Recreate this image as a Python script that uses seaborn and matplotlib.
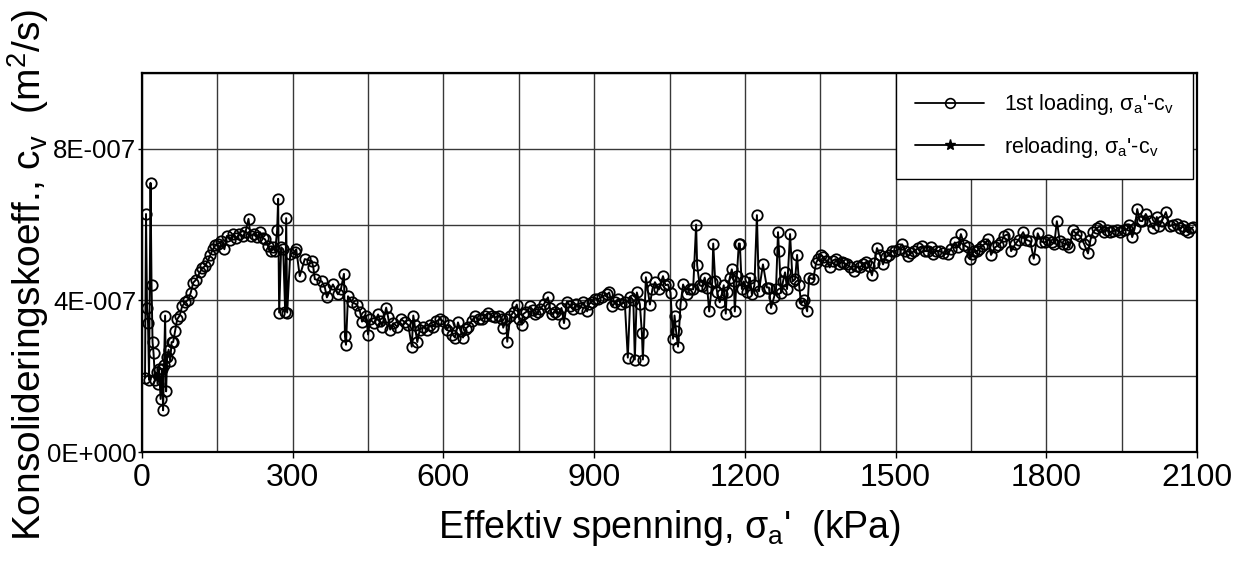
import matplotlib
matplotlib.use("Agg")
import matplotlib.pyplot as plt
from matplotlib.lines import Line2D
from matplotlib.ticker import MultipleLocator, FixedLocator, FixedFormatter
import seaborn as sns
import pandas as pd

# ---- data: effective stress (kPa) and cv (units of 1E-007 m2/s) ----
stress = [6, 8, 10, 12, 14, 17, 19, 21, 23, 26, 29, 31, 34, 37, 40, 42, 44, 46, 48, 50,
          53, 56, 59, 62, 66, 70, 75, 80, 86, 92, 97, 102, 108, 115, 120, 125, 131, 136, 141, 146,
          152, 158, 164, 169, 175, 182, 188, 194, 201, 206, 212, 216, 222, 228, 235, 240, 245, 251, 256, 260,
          265, 269, 271, 273, 277, 281, 285, 287, 289, 295, 305, 307, 314, 324, 338, 341, 344, 358, 364, 368,
          380, 390, 396, 402, 404, 406, 410, 418, 428, 434, 438, 446, 450, 454, 462, 470, 474, 478, 486, 490,
          494, 500, 508, 516, 524, 530, 537, 540, 543, 548, 553, 560, 567, 573, 579, 586, 593, 600, 607, 612,
          618, 623, 629, 634, 639, 644, 649, 656, 663, 670, 677, 683, 689, 696, 703, 710, 717, 719, 725, 727,
          733, 740, 746, 751, 756, 758, 765, 772, 778, 782, 788, 792, 800, 808, 812, 816, 822, 828, 835, 840,
          846, 852, 858, 864, 872, 878, 886, 890, 896, 902, 908, 916, 926, 930, 936, 942, 947, 954, 961, 967,
          972, 978, 981, 985, 991, 995, 997, 1003, 1011, 1016, 1021, 1029, 1037, 1042, 1047, 1052, 1057, 1060, 1063, 1067,
          1072, 1077, 1085, 1090, 1097, 1103, 1105, 1110, 1115, 1120, 1125, 1129, 1135, 1137, 1141, 1145, 1150, 1154, 1158, 1162,
          1164, 1170, 1174, 1178, 1180, 1184, 1188, 1190, 1194, 1198, 1204, 1210, 1214, 1219, 1224, 1228, 1236, 1244, 1248, 1252,
          1258, 1262, 1266, 1268, 1272, 1276, 1280, 1284, 1290, 1295, 1300, 1304, 1308, 1312, 1318, 1324, 1328, 1336, 1342, 1346,
          1352, 1356, 1362, 1369, 1375, 1381, 1387, 1393, 1398, 1403, 1410, 1417, 1423, 1429, 1435, 1441, 1447, 1453, 1458, 1463,
          1469, 1475, 1481, 1487, 1493, 1499, 1506, 1513, 1519, 1525, 1531, 1537, 1545, 1553, 1558, 1565, 1570, 1574, 1580, 1588,
          1595, 1604, 1610, 1618, 1624, 1630, 1637, 1644, 1648, 1652, 1657, 1662, 1667, 1672, 1678, 1684, 1690, 1698, 1704, 1710,
          1716, 1724, 1730, 1738, 1745, 1754, 1760, 1768, 1775, 1783, 1790, 1797, 1804, 1811, 1816, 1821, 1827, 1834, 1841, 1846,
          1853, 1860, 1867, 1875, 1883, 1888, 1893, 1900, 1907, 1914, 1921, 1927, 1933, 1940, 1947, 1954, 1961, 1965, 1971, 1976,
          1981, 1986, 1991, 1998, 2006, 2013, 2020, 2025, 2030, 2038, 2046, 2053, 2060, 2066, 2072, 2077, 2082, 2088, 2092]

cv_e7 = [1.96, 6.28, 3.80, 3.40, 1.90, 7.10, 4.40, 2.90, 2.60, 1.90, 2.10, 1.80, 2.20, 1.40, 2.20, 1.10, 2.30, 3.60, 1.60, 2.50,
         2.70, 2.40, 2.90, 2.90, 3.20, 3.50, 3.60, 3.85, 3.95, 4.02, 4.20, 4.47, 4.55, 4.74, 4.85, 4.90, 5.04, 5.20, 5.35, 5.45,
         5.50, 5.56, 5.35, 5.70, 5.60, 5.75, 5.65, 5.75, 5.70, 5.80, 6.15, 5.70, 5.75, 5.67, 5.80, 5.65, 5.61, 5.43, 5.30, 5.40,
         5.30, 5.85, 6.68, 3.68, 5.40, 5.35, 3.70, 6.17, 3.68, 5.22, 5.27, 5.35, 4.64, 5.09, 5.04, 4.87, 4.56, 4.50, 4.34, 4.08,
         4.42, 4.16, 4.30, 4.70, 3.05, 2.83, 4.11, 3.95, 3.89, 3.70, 3.44, 3.60, 3.10, 3.50, 3.40, 3.63, 3.45, 3.31, 3.81, 3.55,
         3.23, 3.40, 3.31, 3.50, 3.42, 3.35, 2.78, 3.60, 3.34, 2.90, 3.23, 3.30, 3.23, 3.35, 3.31, 3.45, 3.50, 3.45, 3.23, 3.35,
         3.10, 3.02, 3.42, 3.20, 3.02, 3.25, 3.31, 3.45, 3.58, 3.50, 3.50, 3.60, 3.68, 3.60, 3.55, 3.60, 3.50, 3.28, 3.50, 2.91,
         3.58, 3.70, 3.89, 3.50, 3.36, 3.63, 3.70, 3.84, 3.75, 3.63, 3.70, 3.76, 3.90, 4.08, 3.80, 3.63, 3.70, 3.63, 3.80, 3.40,
         3.97, 3.85, 3.76, 3.90, 3.81, 3.95, 3.71, 3.90, 3.97, 4.05, 4.03, 4.10, 4.16, 4.21, 3.84, 3.95, 4.03, 3.90, 3.95, 2.49,
         4.10, 4.00, 2.44, 4.21, 3.90, 3.15, 2.44, 4.61, 3.89, 4.30, 4.48, 4.29, 4.64, 4.40, 4.42, 4.20, 2.99, 3.60, 3.20, 2.78,
         3.90, 4.42, 4.16, 4.30, 4.29, 6.00, 4.93, 4.40, 4.37, 4.60, 4.34, 3.71, 4.48, 5.50, 4.50, 4.21, 3.95, 4.16, 4.40, 3.65,
         4.21, 4.60, 4.82, 4.50, 3.71, 4.64, 5.50, 5.50, 4.30, 4.50, 4.21, 4.60, 4.16, 4.40, 6.25, 4.24, 4.95, 4.34, 4.34, 3.80,
         4.08, 4.30, 5.80, 5.30, 4.20, 4.50, 4.74, 4.30, 5.75, 4.50, 4.56, 5.20, 4.40, 3.92, 4.00, 3.71, 4.60, 4.56, 5.00, 5.09,
         5.20, 5.14, 5.05, 4.87, 5.05, 5.09, 4.95, 5.01, 4.98, 4.95, 4.88, 4.77, 4.90, 4.87, 4.95, 5.01, 4.90, 4.66, 5.00, 5.38,
         5.20, 4.95, 5.15, 5.19, 5.30, 5.30, 5.35, 5.48, 5.30, 5.17, 5.25, 5.30, 5.38, 5.43, 5.30, 5.30, 5.40, 5.22, 5.30, 5.30,
         5.25, 5.22, 5.35, 5.53, 5.40, 5.75, 5.45, 5.40, 5.10, 5.22, 5.30, 5.30, 5.35, 5.43, 5.50, 5.61, 5.20, 5.40, 5.45, 5.53,
         5.70, 5.75, 5.30, 5.48, 5.60, 5.80, 5.60, 5.56, 5.10, 5.77, 5.55, 5.53, 5.60, 5.53, 5.50, 6.09, 5.56, 5.50, 5.48, 5.40,
         5.85, 5.75, 5.70, 5.50, 5.24, 5.60, 5.80, 5.90, 5.96, 5.80, 5.85, 5.80, 5.83, 5.85, 5.80, 5.85, 5.88, 6.00, 5.67, 5.90,
         6.41, 6.10, 6.09, 6.28, 6.09, 5.90, 6.20, 5.95, 6.09, 6.33, 5.96, 6.00, 6.01, 5.90, 5.96, 5.85, 5.80, 5.90, 5.93]

x_ticks = [0, 300, 600, 900, 1200, 1500, 1800, 2100]
y_ticks = [0.0, 4e-7, 8e-7]
y_tick_labels = ["0E+000", "4E-007", "8E-007"]
legend_labels = ["1st loading, σ$_\\mathregular{a}$'-c$_\\mathregular{v}$",
                 "reloading, σ$_\\mathregular{a}$'-c$_\\mathregular{v}$"]

df = pd.DataFrame({"stress": stress, "cv": [v * 1e-7 for v in cv_e7]})

sns.set_theme(style="white")
plt.rcParams["font.family"] = ["Liberation Sans", "DejaVu Sans"]
plt.rcParams["mathtext.fontset"] = "custom"
plt.rcParams["mathtext.rm"] = "Liberation Sans"
plt.rcParams["mathtext.it"] = "Liberation Sans:italic"
plt.rcParams["mathtext.bf"] = "Liberation Sans:bold"
plt.rcParams["text.color"] = "black"
plt.rcParams["axes.labelcolor"] = "black"
plt.rcParams["xtick.color"] = "black"
plt.rcParams["ytick.color"] = "black"

fig = plt.figure(figsize=(12.47, 5.62), dpi=100)
ax = fig.add_axes([142 / 1247, 1 - 452 / 562, (1197 - 142) / 1247, (452 - 73) / 562])

sns.lineplot(data=df, x="stress", y="cv", sort=False, estimator=None, ax=ax,
             color="black", linewidth=1.4, marker="o", markersize=7.5,
             markerfacecolor="none", markeredgecolor="black", markeredgewidth=1.3)

ax.set_xlim(0, 2100)
ax.set_ylim(0, 1e-6)
ax.xaxis.set_major_locator(FixedLocator(x_ticks))
ax.xaxis.set_minor_locator(MultipleLocator(150))
ax.yaxis.set_major_locator(FixedLocator(y_ticks))
ax.yaxis.set_major_formatter(FixedFormatter(y_tick_labels))
ax.yaxis.set_minor_locator(MultipleLocator(2e-7))
ax.grid(True, which="both", color="#383838", linewidth=1.0)
ax.set_axisbelow(True)

ax.tick_params(axis="x", which="major", labelsize=23, length=4, width=1, direction="out", pad=4, bottom=True)
ax.tick_params(axis="y", which="major", labelsize=18.5, length=3, width=1, direction="out", pad=1, left=True)
ax.tick_params(which="minor", length=0)
for s in ax.spines.values():
    s.set_color("black")
    s.set_linewidth(1.6)

ax.set_xlabel("Effektiv spenning, σ$_\\mathregular{a}$'  (kPa)", fontsize=27, labelpad=11)
ax.set_ylabel("Konsolideringskoeff., c$_\\mathregular{v}$  (m$^\\mathregular{2}$/s)", fontsize=28)
ax.yaxis.set_label_coords(-0.086, 0.467)

handles = [Line2D([], [], color="black", linewidth=1.3, marker="o", markersize=7,
                  markerfacecolor="none", markeredgewidth=1.2),
           Line2D([], [], color="black", linewidth=1.3, marker="*", markersize=8)]
leg = ax.legend(handles, legend_labels, loc="upper right", bbox_to_anchor=(0.9962, 1.0),
                borderaxespad=0, fontsize=15.5, frameon=True, fancybox=False, framealpha=1,
                edgecolor="black", handlelength=3.2, handletextpad=0.9, labelspacing=0.8,
                borderpad=0.9)
leg.get_frame().set_linewidth(1.0)
for t in leg.get_texts():
    t.set_color("black")

fig.savefig("out.png", dpi=100)
